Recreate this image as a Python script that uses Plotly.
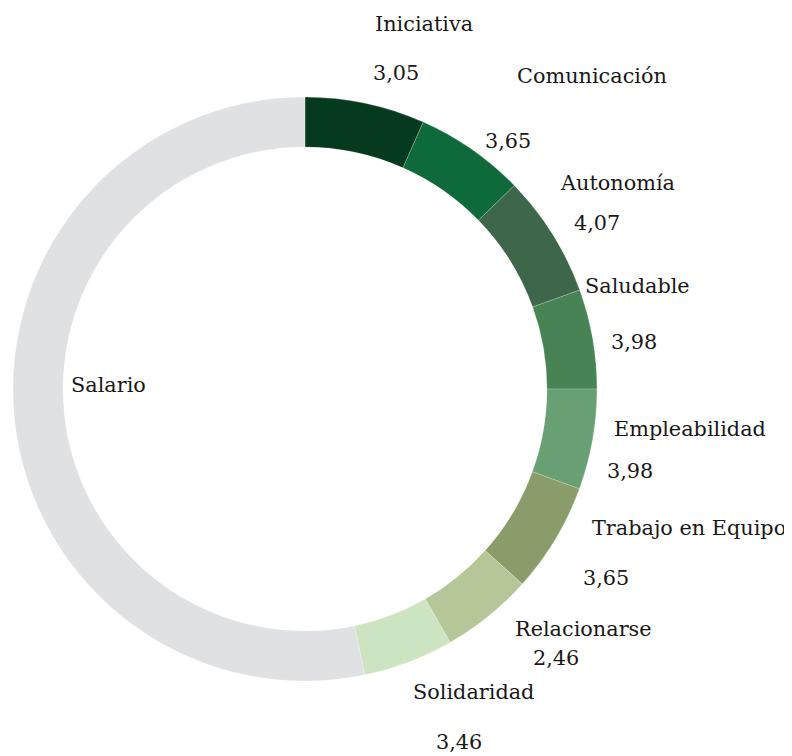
import plotly.graph_objects as go

# ---- data ----
categories = ["Iniciativa", "Comunicación", "Autonomía", "Saludable", "Empleabilidad",
              "Trabajo en Equipo", "Relacionarse", "Solidaridad", "Salario"]
# slice sizes (degrees of the ring)
slice_sizes = [23.9, 21.9, 24.4, 19.8, 20.0, 21.9, 18.3, 18.0, 191.8]
# scores printed next to the slices
score_labels = ["3,05", "3,65", "4,07", "3,98", "3,98", "3,65", "2,46", "3,46", None]

colors = ["#053a1e", "#0e6a3a", "#3e664a", "#478355", "#68a073",
          "#8a9c6a", "#b5c699", "#cce4c0", "#e0e1e3"]

# the page body has an 8px margin, so the figure starts at (8, 8) in the window
OFF = 8
W, H = 792 - OFF, 756 - OFF
# ring geometry in window pixels
cx, cy, R, r_in = 305, 389, 292, 242

# text placement (window pixel centres): label centre and score centre
label_pos = [(424, 24), (592, 76), (617, 183), (637, 286), (690, 429),
             (689, 528), (583, 629), (473, 692), (109, 385)]
score_pos = [(396, 73), (508, 141), (597, 223), (634, 342), (630, 471),
             (606, 578), (556, 658), (459, 742), None]


def px(x):
    return (x - OFF) / W


def py(y):
    return 1 - (y - OFF) / H


fig = go.Figure(go.Pie(
    labels=categories,
    values=slice_sizes,
    sort=False,
    direction="clockwise",
    rotation=0,
    hole=r_in / R,
    marker=dict(colors=colors, line=dict(color="rgba(255,255,255,0.35)", width=0.6)),
    textinfo="none",
    hoverinfo="label",
    showlegend=False,
    domain=dict(x=[px(cx - R), px(cx + R)], y=[py(cy + R), py(cy - R)]),
))

font = dict(family="DejaVu Serif", size=20.8, color="#1a1718")
ann = []
for name, lp, sc, sp in zip(categories, label_pos, score_labels, score_pos):
    ann.append(dict(x=px(lp[0]), y=py(lp[1]), xref="paper", yref="paper",
                    text=name, showarrow=False, xanchor="center", yanchor="middle", font=font))
    if sc is not None:
        ann.append(dict(x=px(sp[0]), y=py(sp[1]), xref="paper", yref="paper",
                        text=sc, showarrow=False, xanchor="center", yanchor="middle", font=font))

fig.update_layout(
    width=W, height=H,
    margin=dict(l=0, r=0, t=0, b=0),
    paper_bgcolor="white", plot_bgcolor="white",
    annotations=ann,
)

fig.write_html("out.html")
